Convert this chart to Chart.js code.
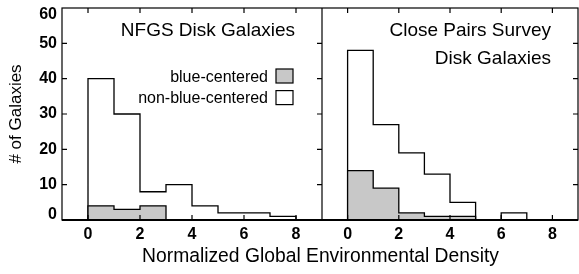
<!DOCTYPE html>
<html>
<head>
<meta charset="utf-8">
<script src="https://cdn.jsdelivr.net/npm/chart.js@4.4.0/dist/chart.umd.min.js"></script>
<style>
  body { margin: 0; background: #fff; }
  #wrap { position: relative; width: 579px; height: 274px; font-family: "Liberation Sans", Arial, sans-serif; }
  #c1 { position: absolute; left: 0; top: 0; }
  #c2 { position: absolute; left: 322px; top: 0; }
  #xtitle { position: absolute; left: 62px; width: 517px; top: 246px; text-align: center;
            font-size: 19.3px; line-height: 19px; color: #000; }
</style>
</head>
<body>
<div id="wrap">
  <canvas id="c1" width="322" height="274"></canvas>
  <canvas id="c2" width="257" height="274"></canvas>
  <div id="xtitle">Normalized Global Environmental Density</div>
</div>
<script>
// bin i covers density i .. i+1
var nfgsBlue = [4, 3, 4];
var nfgsTotal = [40, 30, 8, 10, 4, 2, 2, 1];
var cpsBlue = [14, 9, 2, 1, 1];
var cpsTotal = [48, 27, 19, 13, 5, 0, 2];

var xTicks = [0, 2, 4, 6, 8];
var yTicks = [0, 10, 20, 30, 40, 50, 60];
var seriesLabels = ['blue-centered', 'non-blue-centered'];
var nfgsTitle = ['NFGS Disk Galaxies'];
var cpsTitle = ['Close Pairs Survey', 'Disk Galaxies'];

Chart.defaults.font.family = '"Liberation Sans", Arial, sans-serif';
Chart.defaults.color = '#000';

// histogram outline as a stepped line: up at 0, across each bin, down at the last edge
function stepPoints(counts) {
    var pts = [{x: 0, y: 0}];
    for (var i = 0; i < counts.length; i++) {
        pts.push({x: i, y: counts[i]});
    }
    pts.push({x: counts.length, y: counts[counts.length - 1]});
    pts.push({x: counts.length, y: 0});
    return pts;
}

var framePlugin = {
    id: 'frame',
    afterLayout: function(chart) {
        // keep the 0 and 60 labels inside the frame like the original
        var s = chart.scales.y, a = chart.chartArea;
        if (!s.options.display) return;
        s.getLabelItems(a).forEach(function(it) {
            var t = it.options.translation;
            t[1] = Math.min(Math.max(t[1], a.top + 7), a.bottom - 5);
        });
    },
    afterDatasetsDraw: function(chart, args, o) {
        var a = chart.chartArea, ctx = chart.ctx;
        var xs = chart.scales.x, ys = chart.scales.y;
        ctx.save();
        ctx.strokeStyle = '#000';
        ctx.lineWidth = 1.2;
        ctx.strokeRect(a.left, a.top, a.right - a.left, a.bottom - a.top);
        ctx.beginPath();
        xTicks.forEach(function(v) {
            var px = xs.getPixelForValue(v);
            ctx.moveTo(px, a.bottom); ctx.lineTo(px, a.bottom - o.len);
            ctx.moveTo(px, a.top); ctx.lineTo(px, a.top + o.len);
        });
        yTicks.forEach(function(v) {
            if (v <= ys.min || v >= ys.max) return;
            var py = ys.getPixelForValue(v);
            if (o.leftTicks) { ctx.moveTo(a.left, py); ctx.lineTo(a.left + o.len, py); }
            ctx.moveTo(a.right, py); ctx.lineTo(a.right - o.len, py);
        });
        ctx.stroke();
        // heavier baseline
        ctx.lineWidth = 2.2;
        ctx.beginPath();
        ctx.moveTo(a.left, a.bottom); ctx.lineTo(a.right, a.bottom);
        ctx.stroke();
        ctx.restore();
    }
};

var titlePlugin = {
    id: 'panelTitle',
    afterDraw: function(chart, args, o) {
        var a = chart.chartArea, ctx = chart.ctx;
        ctx.save();
        ctx.font = '19px "Liberation Sans", Arial, sans-serif';
        ctx.fillStyle = '#000';
        ctx.textAlign = 'right';
        ctx.textBaseline = 'alphabetic';
        o.lines.forEach(function(t, i) {
            ctx.fillText(t, a.right - 27, 36 + i * 27.6);
        });
        ctx.restore();
    }
};

var keyPlugin = {
    id: 'key',
    afterDraw: function(chart, args, o) {
        if (!o.show) return;
        var a = chart.chartArea, ctx = chart.ctx;
        var bx = a.right - 46;
        ctx.save();
        ctx.font = '16px "Liberation Sans", Arial, sans-serif';
        ctx.textAlign = 'right';
        ctx.textBaseline = 'alphabetic';
        ctx.lineWidth = 1.2;
        ctx.strokeStyle = '#000';
        chart.data.datasets.forEach(function(ds, i) {
            var top = 69 + i * 21.6;
            ctx.fillStyle = ds.backgroundColor;
            ctx.fillRect(bx, top, 17, 14);
            ctx.strokeRect(bx, top, 17, 14);
            ctx.fillStyle = '#000';
            ctx.fillText(ds.label, bx - 8, top + 12.7);
        });
        ctx.restore();
    }
};

function makePanel(id, blue, total, title, isLeft) {
    var ctx = document.getElementById(id).getContext('2d');
    return new Chart(ctx, {
        type: 'line',
        data: {
            datasets: [{
                label: seriesLabels[0],
                data: stepPoints(blue),
                stepped: 'before',
                fill: 'origin',
                backgroundColor: 'rgb(200,200,200)',
                borderColor: '#000',
                borderWidth: 1.3,
                pointRadius: 0
            }, {
                label: seriesLabels[1],
                data: stepPoints(total),
                stepped: 'before',
                fill: 'origin',
                backgroundColor: '#fff',
                borderColor: '#000',
                borderWidth: 1.3,
                pointRadius: 0
            }]
        },
        options: {
            responsive: false,
            animation: false,
            events: [],
            layout: { padding: { top: 8, right: isLeft ? 0 : 1, bottom: 0, left: 0 } },
            scales: {
                x: {
                    type: 'linear',
                    min: -1,
                    max: 9,
                    grid: { display: false, drawTicks: false },
                    border: { display: false },
                    ticks: { font: { size: 16, weight: 'bold' }, color: '#000', padding: 5 },
                    afterBuildTicks: function(s) { s.ticks = xTicks.map(function(v) { return {value: v}; }); },
                    afterFit: function(s) {
                        s.height = 54;
                        s.paddingLeft = 0;
                        s.paddingRight = 0;
                    }
                },
                y: {
                    display: isLeft,
                    min: 0,
                    max: 60,
                    grid: { display: false, drawTicks: false },
                    border: { display: false },
                    ticks: { font: { size: 16, weight: 'bold' }, color: '#000', padding: 5 },
                    title: {
                        display: true,
                        text: '# of Galaxies',
                        font: { size: 17 },
                        color: '#000',
                        padding: { top: 6, bottom: 0 }
                    },
                    afterBuildTicks: function(s) { s.ticks = yTicks.map(function(v) { return {value: v}; }); },
                    afterFit: function(s) {
                        s.width = isLeft ? 62 : 0;
                        s.paddingTop = 0;
                        s.paddingBottom = 0;
                    }
                }
            },
            plugins: {
                legend: { display: false },
                tooltip: { enabled: false },
                frame: { len: 5, leftTicks: isLeft },
                panelTitle: { lines: title },
                key: { show: isLeft }
            }
        },
        plugins: [framePlugin, titlePlugin, keyPlugin]
    });
}

makePanel('c1', nfgsBlue, nfgsTotal, nfgsTitle, true);
makePanel('c2', cpsBlue, cpsTotal, cpsTitle, false);
</script>
</body>
</html>
